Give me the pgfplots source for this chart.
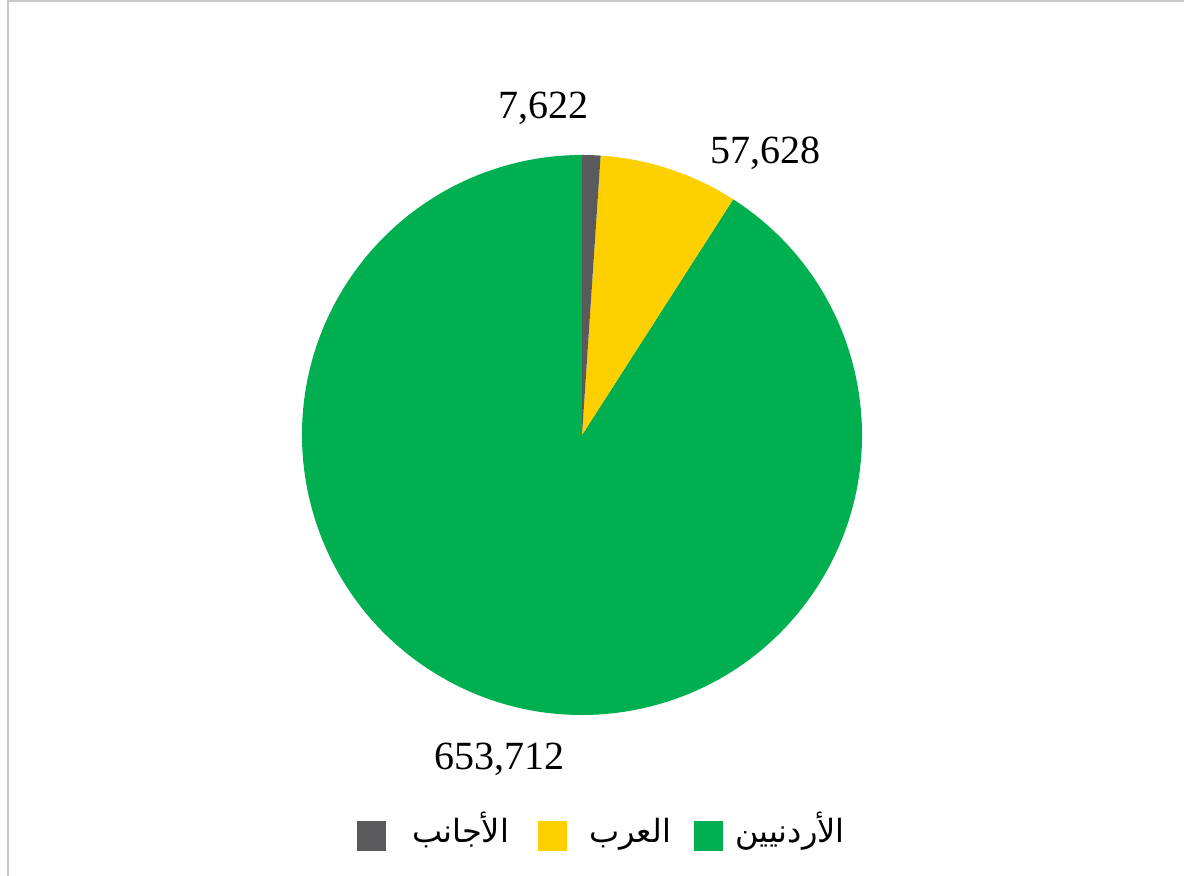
\documentclass[border=0pt]{standalone}
\usepackage{pgfplots}
\pgfplotsset{compat=1.18}
\usepackage{pgfplotstable}
\usepackage{fontspec}
\setmainfont{Liberation Serif}
\newfontfamily\arabicfont[Script=Arabic]{DejaVu Sans}
\TeXXeTstate=1
\definecolor{pgrey}{RGB}{90,90,92}
\definecolor{pyellow}{RGB}{255,208,0}
\definecolor{pgreen}{RGB}{0,176,80}
\definecolor{pframe}{RGB}{200,200,200}

\pgfplotstableread{
name value
foreign 7622
arab 57628
jordan 653712
}\pietable

\pgfplotstablegetelem{0}{value}\of\pietable \edef\va{\pgfplotsretval}
\pgfplotstablegetelem{1}{value}\of\pietable \edef\vb{\pgfplotsretval}
\pgfplotstablegetelem{2}{value}\of\pietable \edef\vc{\pgfplotsretval}
\edef\total{\fpeval{\va+\vb+\vc}}
\edef\aA{90}
\edef\aB{\fpeval{round(90-360*\va/\total,4)}}
\edef\aC{\fpeval{round(\aB-360*\vb/\total,4)}}
\edef\aD{-270}

\begin{document}
\begin{tikzpicture}
\useasboundingbox (0pt,0pt) rectangle (592pt,438pt);
\draw[line width=1pt, pframe] (3.75pt,0pt) -- (3.75pt,437.25pt) -- (592pt,437.25pt);
\begin{axis}[at={(291pt,220.5pt)}, anchor=center, scale only axis,
  width=280pt, height=280pt, xmin=-1, xmax=1, ymin=-1, ymax=1,
  hide axis, clip=false]
\addplot[draw=none] coordinates {(0,0)};
\fill[pgreen] (axis cs:0,0) -- (axis cs:{cos(\aC)},{sin(\aC)}) arc[start angle=\aC, end angle=\aD, radius=140pt] -- cycle;
\fill[pyellow] (axis cs:0,0) -- (axis cs:{cos(\aB)},{sin(\aB)}) arc[start angle=\aB, end angle=\aC, radius=140pt] -- cycle;
\fill[pgrey] (axis cs:0,0) -- (axis cs:{cos(\aA)},{sin(\aA)}) arc[start angle=\aA, end angle=\aB, radius=140pt] -- cycle;
\node[anchor=base, font=\fontsize{20}{24}\selectfont] at (axis cs:-0.136,1.132) {7,622};
\node[anchor=base, font=\fontsize{20}{24}\selectfont] at (axis cs:0.654,0.971) {57,628};
\node[anchor=base, font=\fontsize{20}{24}\selectfont] at (axis cs:-0.296,-1.196) {653,712};
\end{axis}
\fill[pgrey] (178.5pt,12.5pt) rectangle (193pt,27.5pt);
\fill[pyellow] (269pt,12.5pt) rectangle (283.5pt,27.5pt);
\fill[pgreen] (347pt,12.5pt) rectangle (361.5pt,27.5pt);
\node[anchor=base, font=\arabicfont\fontsize{16}{19}\selectfont] at (230.25pt,16.5pt) {\beginR الأجانب\endR};
\node[anchor=base, font=\arabicfont\fontsize{16}{19}\selectfont] at (315pt,16.5pt) {\beginR العرب\endR};
\node[anchor=base, font=\arabicfont\fontsize{16}{19}\selectfont] at (395pt,16.5pt) {\beginR الأردنيين\endR};
\end{tikzpicture}
\end{document}
